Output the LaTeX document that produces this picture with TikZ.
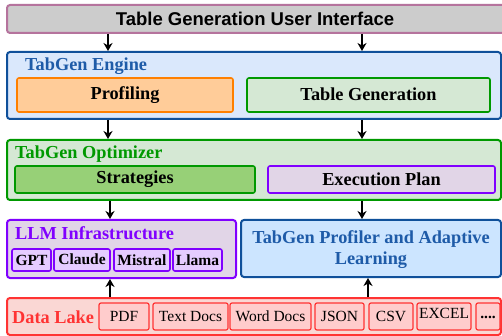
\documentclass[tikz,border=0pt]{standalone}
\usepackage{fontspec}
\setmainfont{Liberation Serif}
\newfontfamily\uisans{Liberation Sans}
\usetikzlibrary{arrows.meta,fit}

\definecolor{uiFill}{HTML}{CCCCCC}
\definecolor{uiLine}{HTML}{B5739D}
\definecolor{engFill}{HTML}{DAE8FC}
\definecolor{engLine}{HTML}{0F509A}
\definecolor{engText}{HTML}{1E5BA8}
\definecolor{profFill}{HTML}{FFCC99}
\definecolor{profLine}{HTML}{FF8000}
\definecolor{grnFill}{HTML}{D5E8D4}
\definecolor{grnLine}{HTML}{009900}
\definecolor{stratFill}{HTML}{97D077}
\definecolor{purFill}{HTML}{E1D5E7}
\definecolor{purLine}{HTML}{8000FF}
\definecolor{llmItem}{HTML}{E5CCFF}
\definecolor{adaptFill}{HTML}{CCE5FF}
\definecolor{lakeFill}{HTML}{FAD7D4}
\definecolor{lakeLine}{HTML}{FF3333}
\definecolor{lakeItem}{HTML}{FFCCCC}

\begin{document}
\begin{tikzpicture}[x=1pt,y=-1pt,
  font=\fontsize{18.3}{21}\selectfont\bfseries,
  blk/.style={draw, rounded corners=3pt, inner sep=0pt, line width=2pt},
  sub/.style={draw, rounded corners=2pt, inner sep=0pt, line width=1.6pt},
  lakeitem/.style={sub, line width=1.2pt, draw=lakeLine, fill=lakeItem},
  llmitem/.style={sub, draw=purLine, fill=llmItem},
  small/.style={inner sep=0pt, font=\fontsize{15.5}{18}\selectfont\mdseries},
  smallbf/.style={inner sep=0pt, font=\fontsize{15.5}{18}\selectfont\bfseries},
  txt/.style={inner sep=0pt},
  title/.style={anchor=base west, inner sep=0pt},
  arr/.style={line width=1.4pt, -{Stealth[length=8pt,width=9pt,inset=2.5pt]}},
]
\clip (0,0) rectangle (502,336);
\fill[white] (0,0) rectangle (502,336);

% user interface bar
\node[blk, draw=uiLine, fill=uiFill, fit={(7,5)(520,33)}] (ui) {};
\node[txt, font=\fontsize{18.5}{21}\selectfont\uisans\bfseries] (uiT) at (255,19) {Table Generation User Interface};

% engine
\node[blk, draw=engLine, fill=engFill, fit={(7,52)(501,119)}] (eng) {};
\node[title, text=engText] (engT) at (25,71) {TabGen Engine};
\node[sub, draw=profLine, fill=profFill, fit={(17,78)(233,112)}] (prof) {};
\node[txt] (profT) at (prof.center) {Profiling};
\node[sub, draw=grnLine, fill=grnFill, fit={(247,78)(490,112)}] (tgen) {};
\node[txt] (tgenT) at ([yshift=1pt]tgen.center) {Table Generation};

% optimizer
\node[blk, draw=grnLine, fill=grnFill, fit={(7,140)(501,200)}] (opt) {};
\node[title, text=grnLine] (optT) at (15,159) {TabGen Optimizer};
\node[sub, draw=grnLine, fill=stratFill, fit={(15,166)(255,193)}] (strat) {};
\node[txt] (stratT) at (strat.center) {Strategies};
\node[sub, draw=purLine, fill=purFill, fit={(268,166)(495,193)}] (plan) {};
\node[txt] (planT) at (plan.center) {Execution Plan};

% LLM infrastructure
\node[blk, draw=purLine, fill=purFill, fit={(7,220)(236,278)}] (llm) {};
\node[title, text=purLine] (llmT) at (15,240) {LLM Infrastructure};
\node[llmitem, fit={(12,249)(51,271)}] (gpt) {};
\node[smallbf] (gptT) at (gpt.center) {GPT};
\node[llmitem, fit={(54,249)(110,271)}] (claude) {};
\node[smallbf] (claudeT) at ([yshift=1pt]claude.center) {Claude};
\node[llmitem, fit={(114,249)(170,271)}] (mistral) {};
\node[smallbf] (mistralT) at (mistral.center) {Mistral};
\node[llmitem, fit={(173,249)(222,271)}] (llama) {};
\node[smallbf] (llamaT) at (llama.center) {Llama};

% profiler and adaptive learning
\node[blk, draw=engLine, fill=adaptFill, fit={(241,220)(501,277)}] (adapt) {};
\node[align=center, text=engText, inner sep=0pt] (adaptT) at (371,250) {TabGen Profiler and Adaptive\\Learning};

% data lake
\node[blk, draw=lakeLine, fill=lakeFill, fit={(7,298)(501,335)}] (lake) {};
\node[title, text=lakeLine] (lakeT) at (12,323) {Data Lake};
\node[lakeitem, fit={(99,303)(149,330)}] (pdf) {};
\node[small] (pdfT) at (pdf.center) {PDF};
\node[lakeitem, fit={(153,303)(228,330)}] (txt) {};
\node[small] (txtT) at (txt.center) {Text Docs};
\node[lakeitem, fit={(230,303)(311,330)}] (word) {};
\node[small] (wordT) at (word.center) {Word Docs};
\node[lakeitem, fit={(315,303)(364,330)}] (json) {};
\node[small] (jsonT) at (json.center) {JSON};
\node[lakeitem, fit={(369,303)(413,330)}] (csv) {};
\node[small] (csvT) at (csv.center) {CSV};
\node[lakeitem, fit={(417,303)(471,330)}] (excel) {};
\node[small] (excelT) at ([yshift=3pt]excel.center) {EXCEL};
\node[lakeitem, fit={(476,303)(500,330)}] (more) {};
\node[smallbf] (moreT) at ([yshift=-1pt]more.center) {....};

% connector lanes
\coordinate (laneA) at (108,0);
\coordinate (laneB) at (362,0);
\coordinate (laneC) at (110,0);
\coordinate (laneD) at (368,0);

\draw[arr] (ui.south -| laneA) -- (eng.north -| laneA);
\draw[arr] (ui.south -| laneB) -- (eng.north -| laneB);
\draw[arr] (eng.south -| laneA) -- (opt.north -| laneA);
\draw[arr] (eng.south -| laneB) -- (opt.north -| laneB);
\draw[arr] (opt.south -| laneC) -- (llm.north -| laneC);
\draw[arr] (opt.south -| laneB) -- (adapt.north -| laneB);
\draw[arr] (lake.north -| laneC) -- (llm.south -| laneC);
\draw[arr] (lake.north -| laneD) -- (adapt.south -| laneD);
\end{tikzpicture}
\end{document}
